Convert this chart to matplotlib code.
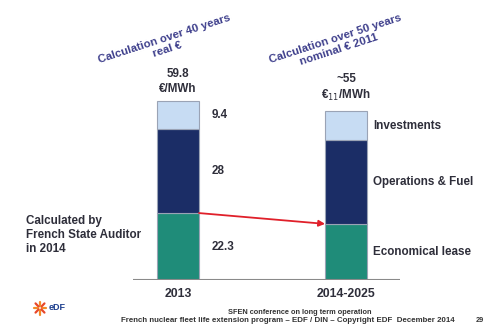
import matplotlib

matplotlib.use("Agg")

import matplotlib.pyplot as plt  # noqa: E402
import numpy as np  # noqa: E402

plt.rcParams["font.family"] = ["Liberation Sans", "DejaVu Sans"]

# values (2014-2025 column is only "~55", heights estimated)
periods = ["2013", "2014-2025"]
lease = [22.3, 18.7]
ops_fuel = [28.0, 27.8]
investments = [9.4, 9.8]
segment_names = ["Economical lease", "Operations & Fuel", "Investments"]
value_labels_2013 = ["22.3", "28", "9.4"]
totals_text = ["59.8\n€/MWh", "~55\n€$_{11}$/MWh"]
method_text = ["Calculation over 40 years\nreal €", "Calculation over 50 years\nnominal € 2011"]

W, H = 486, 325
fig = plt.figure(figsize=(W / 100, H / 100), dpi=100)
fig.patch.set_facecolor("white")

# axes placed in pixel terms: baseline at y=280, axis line from x=133 to 400
ax = fig.add_axes([133 / W, 1 - 280 / H, 267 / W, 280 / H])
ax.set_xlim(-0.268, 1.321)
ax.set_ylim(0, 93.3)
ax.axis("off")

x = np.arange(len(periods))
bw = 0.25
colors = ["#1f8c79", "#1b2d66", "#c7dcf3"]
bottoms = np.zeros(len(periods))
for vals, col in zip([lease, ops_fuel, investments], colors):
    ax.bar(x, vals, bw, bottom=bottoms, color=col, edgecolor="#9aa3b5", linewidth=0.8, zorder=2)
    bottoms = bottoms + np.array(vals)

ax.axhline(0, color="#8a8a8a", lw=1.5, zorder=3)

dark = "#2e2e3a"
fs = 8.4
# values next to the 2013 bar
b = 0.0
for v, lab in zip([lease[0], ops_fuel[0], investments[0]], value_labels_2013):
    ax.text(x[0] + 0.2, b + v / 2, lab, ha="left", va="center", fontsize=fs,
            fontweight="bold", color=dark)
    b += v

# segment names next to the second bar
b = 0.0
for v, lab in zip([lease[1], ops_fuel[1], investments[1]], segment_names):
    ax.text(x[1] + 0.16, b + v / 2, lab, ha="left", va="center", fontsize=fs,
            fontweight="bold", color=dark)
    b += v

# totals above the bars
for xi, tot, lab, off in zip(x, bottoms, totals_text, [2.0, 2.6]):
    ax.text(xi, tot + off, lab, ha="center", va="bottom", fontsize=fs,
            fontweight="bold", color=dark, linespacing=1.3)

# red arrow between the lease tops
ax.annotate("", xy=(x[1] - bw / 2, lease[1]), xytext=(x[0] + bw / 2, lease[0]),
            arrowprops=dict(arrowstyle="-|>", color="#e0202a", lw=1.3,
                            mutation_scale=9, shrinkA=0, shrinkB=0), zorder=4)

# category labels
for xi, lab in zip(x, periods):
    ax.text(xi, -4.5, lab, ha="center", va="center", fontsize=8.8,
            fontweight="bold", color=dark, clip_on=False)

# rotated method headers
for (px, py), lab in zip([(166, 44), (337, 44)], method_text):
    fig.text(px / W, 1 - py / H, lab, ha="center", va="center", rotation=18,
             rotation_mode="anchor", fontsize=8.2, fontweight="bold",
             color="#3e3f8c", linespacing=1.1)

fig.text(26 / W, 1 - 235 / H, "Calculated by\nFrench State Auditor\nin 2014",
         ha="left", va="center", fontsize=fs, fontweight="bold", color=dark,
         linespacing=1.22)

# footer
fig.text(300 / W, 1 - 312 / H, "SFEN conference on long term operation",
         ha="center", va="center", fontsize=5.3, fontweight="bold", color="#333")
fig.text(288 / W, 1 - 320 / H,
         "French nuclear fleet life extension program – EDF / DIN – Copyright EDF  December 2014",
         ha="center", va="center", fontsize=5.7, fontweight="bold", color="#333")
fig.text(480 / W, 1 - 320 / H, "29", ha="center", va="center", fontsize=5.3,
         fontweight="bold", color="#333")

# rough EDF logo: orange/red petals + letters
lx, ly = 40 / W, 1 - 308 / H
for ang, col in zip(np.linspace(0, 2 * np.pi, 8, endpoint=False),
                    ["#f28c28", "#e8472a", "#f28c28", "#e8472a", "#f28c28",
                     "#e8472a", "#f28c28", "#e8472a"]):
    fig.add_artist(plt.Line2D([lx + 0.004 * np.cos(ang), lx + 0.013 * np.cos(ang)],
                              [ly + 0.006 * np.sin(ang), ly + 0.02 * np.sin(ang)],
                              transform=fig.transFigure, color=col, lw=1.6,
                              solid_capstyle="round"))
fig.text(49 / W, 1 - 308 / H, "eDF", ha="left", va="center", fontsize=6.5,
         fontweight="bold", color="#1d3f8f")

fig.savefig("out.png", dpi=100)
